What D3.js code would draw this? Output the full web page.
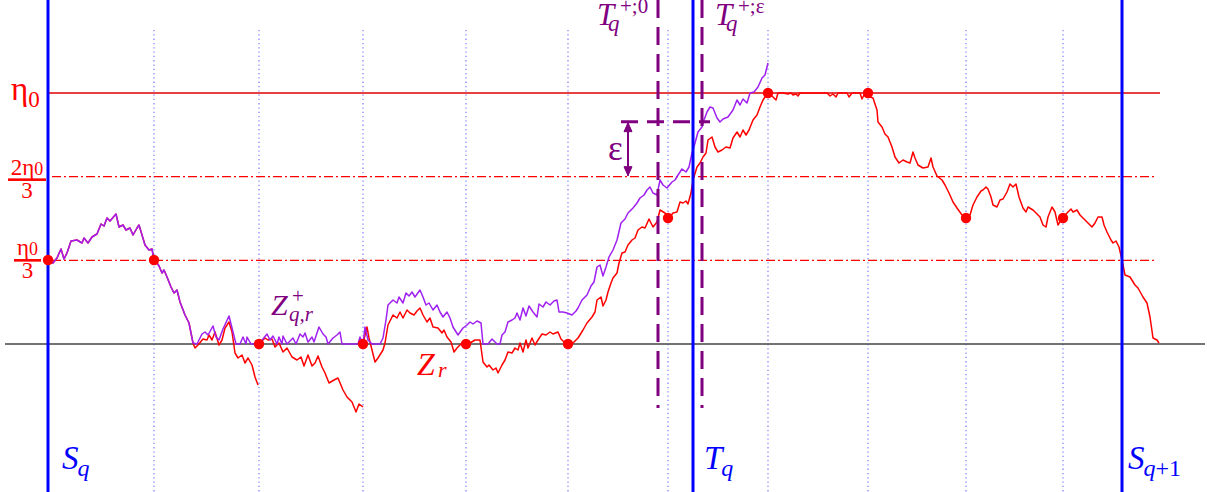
<!DOCTYPE html>
<html><head><meta charset="utf-8">
<script src="https://cdn.jsdelivr.net/npm/d3@7"></script>
<style>body{margin:0;background:#fff}svg{display:block}text{font-family:"Liberation Serif","DejaVu Serif",serif}</style>
</head><body><svg id="c" width="1207" height="492"></svg>
<script>
// ---- data (time units t, level units z; eta0 = 251) ----
const eta0 = 251;
const levelLabels = ["η0/3", "2η0/3", "η0"];
const gridTimes = [106, 211, 315, 418, 520, 620, 720, 820, 918, 1015];
const markerTimes = [0, 645, 1074];            // S_q, T_q, S_{q+1}
const markerNames = [["S","q",""], ["T","q",""], ["S","q","+1"]];
const hitTimes = [610, 654];                    // T_q^{+;0}, T_q^{+;ε}
const hitSup = ["+;0", "+;ε"];
const epsilon = 55;
const epsTimes = [573, 662];
const epsArrowTime = 580;
const dotsT = [0, 106, 211, 315, 418, 520, 620, 720, 820, 918, 1015];
const dotsZ = [84, 84, 0, 0, 0, 0, 126, 251, 251, 126, 126];

// common part of Z_r and Z^+_{q,r}
const commonPath = [[0,83],[5,81],[9,86],[13,95],[16,85],[19,91],[23,103],[29,104],[34,101],[36,106],[40,101],[44,107],[49,110],[53,120],[56,118],[59,126],[62,123],[68,130],[71,117],[75,119],[78,114],[82,116],[85,109],[89,116],[91,119],[94,109],[97,99],[101,94],[104,95],[106,84],[109,81],[111,78],[114,71],[116,74],[119,67],[123,57],[126,51],[129,54],[132,42],[137,29],[141,21],[145,1]];

const purpleTail = [[149,0],[154,10],[157,12],[160,9],[165,18],[168,7],[171,4],[175,15],[181,28],[185,12],[188,0],[192,0],[195,7],[198,0],[199,7],[203,0],[211,0],[219,10],[222,4],[225,8],[229,0],[231,7],[234,0],[235,8],[239,0],[245,6],[248,0],[252,10],[255,7],[257,11],[260,2],[264,7],[266,2],[271,17],[275,10],[278,7],[280,0],[285,6],[289,9],[292,12],[294,0],[310,0],[312,7],[315,0],[317,17],[320,4],[324,0],[332,0],[335,6],[338,24],[340,39],[345,44],[349,41],[351,47],[355,41],[358,51],[361,48],[364,52],[367,47],[372,54],[375,47],[378,39],[381,41],[385,34],[389,39],[392,32],[395,27],[399,32],[402,26],[405,17],[410,9],[415,16],[419,19],[422,22],[425,20],[429,23],[433,21],[435,0],[440,0],[444,5],[449,0],[452,0],[454,9],[457,12],[460,22],[464,24],[467,26],[469,31],[472,24],[475,36],[478,28],[481,38],[485,32],[489,27],[491,40],[495,37],[498,42],[502,39],[506,43],[509,44],[511,32],[515,32],[519,31],[524,29],[528,33],[530,36],[534,44],[539,49],[543,58],[546,62],[549,77],[552,79],[555,68],[558,77],[561,87],[565,94],[569,104],[573,121],[577,125],[580,131],[585,136],[589,141],[592,146],[596,149],[599,154],[602,157],[605,151],[609,149],[612,164],[615,159],[619,156],[624,162],[627,164],[630,169],[634,175],[638,172],[641,177],[644,191],[647,201],[650,212],[654,217],[656,224],[659,232],[662,237],[665,236],[669,226],[672,222],[675,225],[680,227],[685,234],[689,244],[692,239],[695,245],[699,241],[702,251],[706,252],[710,257],[714,266],[717,269],[720,281]];

const redTail1 = [[147,-4],[150,-1],[155,5],[159,4],[161,9],[164,4],[167,12],[171,-1],[174,4],[177,16],[181,22],[184,12],[187,-9],[190,-14],[194,-11],[197,-19],[200,-14],[204,-21],[207,-33],[210,-41]];

const redPiece2 = [[211,0],[217,6],[220,4],[224,5],[227,-3],[231,1],[235,-8],[239,-4],[244,-13],[249,-16],[253,-13],[256,-22],[260,-11],[264,-22],[267,-19],[270,-12],[274,-23],[277,-29],[281,-39],[286,-36],[290,-34],[295,-46],[299,-53],[304,-58],[308,-68],[311,-60],[315,-63]];

const redPiece3 = [[315,0],[317,9],[319,17],[321,6],[324,-6],[327,-18],[330,-14],[335,-6],[337,1],[340,19],[345,29],[349,26],[352,32],[355,26],[359,34],[362,31],[366,29],[369,33],[372,36],[375,29],[379,22],[382,26],[385,17],[390,16],[394,11],[396,14],[399,7],[403,2],[406,-8],[409,-4],[412,-1],[414,1],[418,0],[422,1],[427,4],[432,4],[435,-18],[439,-23],[441,-21],[445,-26],[448,-24],[450,-29],[454,-21],[457,-16],[460,-8],[464,-9],[467,-4],[470,-6],[472,1],[475,-8],[478,4],[480,-4],[484,6],[487,-1],[490,4],[494,10],[498,9],[502,12],[505,10],[510,12],[513,5],[517,1],[520,0],[525,1],[530,6],[535,14],[539,21],[544,27],[547,32],[549,44],[553,47],[555,38],[558,44],[560,52],[563,61],[565,66],[569,71],[571,81],[574,91],[577,92],[580,99],[584,104],[587,106],[590,114],[594,117],[597,116],[601,125],[605,117],[609,122],[612,134],[617,131],[621,126],[625,131],[629,132],[632,142],[635,141],[638,143],[640,140],[643,151],[645,164],[649,177],[652,181],[655,187],[658,191],[660,204],[664,207],[667,197],[670,192],[674,194],[678,197],[682,196],[685,206],[689,212],[692,207],[695,214],[698,209],[701,214],[705,224],[709,229],[712,237],[715,244],[719,250],[721,251],[725,247],[728,244],[730,251],[735,251],[740,250],[743,251],[745,249],[748,250],[750,248],[752,251],[779,251],[782,248],[785,250],[788,247],[790,251],[799,251],[801,247],[804,251],[812,251],[814,245],[816,249],[820,251],[822,247],[825,246],[829,234],[830,222],[834,217],[837,210],[840,207],[844,197],[847,187],[851,181],[855,184],[859,182],[862,181],[865,192],[867,186],[870,179],[875,176],[880,177],[883,186],[885,177],[889,168],[894,164],[897,159],[901,151],[905,142],[909,136],[914,129],[918,126],[922,129],[925,139],[929,147],[933,153],[935,154],[938,157],[940,155],[943,147],[945,139],[949,137],[952,144],[955,145],[959,152],[962,160],[965,157],[968,160],[971,147],[975,136],[978,132],[980,137],[985,134],[989,130],[992,127],[995,119],[998,117],[1000,127],[1004,137],[1007,132],[1010,119],[1013,124],[1015,126],[1019,131],[1023,135],[1025,132],[1029,134],[1032,129],[1035,126],[1039,122],[1044,117],[1047,121],[1050,127],[1054,127],[1056,119],[1059,112],[1063,104],[1065,101],[1068,103],[1071,97],[1074,84],[1077,69],[1082,67],[1087,59],[1090,56],[1095,47],[1099,41],[1102,27],[1105,6],[1109,4],[1111,1]];

// ---- drawing ----
const W = 1207, H = 492;
const svg = d3.select("#c");
const x = d3.scaleLinear().domain([0, 1112]).range([48, 1160]);
const y = d3.scaleLinear().domain([0, eta0]).range([344, 93]);
const line = d3.line().x(d => x(d[0])).y(d => y(d[1]));
const RED = "#ff0000", BLUE = "#0000ff", VIOLET = "#a020f0", DPURP = "#800080";

// dotted grid
svg.selectAll(".grid").data(gridTimes).enter().append("line")
  .attr("x1", d => x(d)).attr("x2", d => x(d)).attr("y1", 30).attr("y2", H)
  .attr("stroke", "#7a7aff").attr("stroke-width", 1.2).attr("stroke-dasharray", "1.3,3");

// zero axis
svg.append("line").attr("x1", x(-43)).attr("x2", x(1157)).attr("y1", y(0)).attr("y2", y(0))
  .attr("stroke", "#444").attr("stroke-width", 1.6);

// level lines
svg.append("line").attr("x1", x(0)).attr("x2", x(1112)).attr("y1", y(eta0)).attr("y2", y(eta0))
  .attr("stroke", "#e00000").attr("stroke-width", 1.3);
[eta0 / 3, 2 * eta0 / 3].forEach(v => {
  svg.append("line").attr("x1", x(4)).attr("x2", x(1109)).attr("y1", y(v)).attr("y2", y(v))
    .attr("stroke", RED).attr("stroke-width", 1.2).attr("stroke-dasharray", "9,3,2,3");
});

// curves
const redPieces = [commonPath.concat(redTail1), redPiece2, redPiece3];
redPieces.forEach(p => svg.append("path").attr("d", line(p)).attr("fill", "none")
  .attr("stroke", RED).attr("stroke-width", 1.5).attr("stroke-linejoin", "round"));
svg.append("path").attr("d", line(commonPath.concat(purpleTail))).attr("fill", "none")
  .attr("stroke", VIOLET).attr("stroke-width", 1.5).attr("stroke-linejoin", "round");

// blue markers
svg.selectAll(".mk").data(markerTimes).enter().append("line")
  .attr("x1", d => x(d)).attr("x2", d => x(d)).attr("y1", 0).attr("y2", H)
  .attr("stroke", BLUE).attr("stroke-width", 3);

// purple dashed hitting times
svg.selectAll(".hit").data(hitTimes).enter().append("line")
  .attr("x1", d => x(d)).attr("x2", d => x(d)).attr("y1", 0).attr("y2", 408)
  .attr("stroke", DPURP).attr("stroke-width", 3).attr("stroke-dasharray", "18,9");

// epsilon construction
const epsLevel = 2 * eta0 / 3 + epsilon;
svg.append("line").attr("x1", x(epsTimes[0])).attr("x2", x(epsTimes[1]))
  .attr("y1", y(epsLevel)).attr("y2", y(epsLevel))
  .attr("stroke", DPURP).attr("stroke-width", 3).attr("stroke-dasharray", "17,9");
const ax = x(epsArrowTime), ay1 = y(epsLevel) + 1, ay2 = y(2 * eta0 / 3) - 1;
svg.append("line").attr("x1", ax).attr("x2", ax).attr("y1", ay1).attr("y2", ay2)
  .attr("stroke", DPURP).attr("stroke-width", 2);
svg.append("path").attr("d", `M${ax-4},${ay1+9}L${ax},${ay1}L${ax+4},${ay1+9}Z M${ax-4},${ay2-9}L${ax},${ay2}L${ax+4},${ay2-9}Z`)
  .attr("fill", DPURP).attr("stroke", DPURP).attr("stroke-width", 1);
svg.append("text").attr("x", ax - 20).attr("y", (ay1 + ay2) / 2 + 11).attr("font-size", 35)
  .attr("fill", DPURP).text("ε");

// red dots
svg.selectAll(".dot").data(dotsT).enter().append("circle")
  .attr("cx", d => x(d)).attr("cy", (d, i) => y(dotsZ[i])).attr("r", 5.2).attr("fill", RED);

// marker labels
const markerLabelDx = [14, 11, 6];
markerTimes.forEach((t, i) => {
  const tx = svg.append("text").attr("x", x(t) + markerLabelDx[i]).attr("y", 469).attr("font-size", 33)
    .attr("font-style", "italic").attr("fill", BLUE);
  tx.append("tspan").text(markerNames[i][0]);
  tx.append("tspan").attr("dy", 7).attr("dx", -1).attr("font-size", 24).text(markerNames[i][1]);
  if (markerNames[i][2]) tx.append("tspan").attr("font-size", 24).attr("font-style", "normal").text(markerNames[i][2]);
});

// hitting time labels
hitTimes.forEach((t, i) => {
  const bx = x(t) - 61 + (i === 1 ? 74 : 0);
  svg.append("text").attr("x", bx).attr("y", 25).attr("font-size", 31).attr("font-style", "italic")
    .attr("fill", DPURP).text("T");
  svg.append("text").attr("x", bx + 11).attr("y", 31).attr("font-size", 23).attr("font-style", "italic")
    .attr("fill", DPURP).text("q");
  svg.append("text").attr("x", bx + 23).attr("y", 13).attr("font-size", 21)
    .attr("fill", DPURP).text(hitSup[i]);
});

// process labels
svg.append("text").attr("x", 271).attr("y", 315).attr("font-size", 30).attr("font-style", "italic")
  .attr("fill", DPURP).text("Z");
svg.append("text").attr("x", 292).attr("y", 303).attr("font-size", 21).attr("fill", DPURP).text("+");
svg.append("text").attr("x", 289).attr("y", 321).attr("font-size", 21).attr("font-style", "italic")
  .attr("fill", DPURP).text("q,r");
svg.append("text").attr("x", 417).attr("y", 375).attr("font-size", 32).attr("font-style", "italic")
  .attr("fill", RED).text("Z");
svg.append("text").attr("x", 438).attr("y", 377).attr("font-size", 22).attr("font-style", "italic")
  .attr("fill", RED).text("r");

// level labels
const eL = svg.append("text").attr("x", 11).attr("y", 100).attr("font-size", 33).attr("fill", RED);
eL.append("tspan").text("η");
eL.append("tspan").attr("dy", 7).attr("font-size", 23).text("0");

function frac(num2, cy, x0, x1) {
  const cx = (x0 + x1) / 2;
  const t = svg.append("text").attr("x", cx).attr("y", cy - 5).attr("font-size", 23)
    .attr("text-anchor", "middle").attr("fill", RED);
  if (num2) t.append("tspan").text("2");
  t.append("tspan").text("η");
  t.append("tspan").attr("font-size", 18).text("0");
  svg.append("rect").attr("x", x0).attr("y", cy - 1.3).attr("width", x1 - x0).attr("height", 2.6).attr("fill", RED);
  svg.append("text").attr("x", cx).attr("y", cy + 18).attr("font-size", 23)
    .attr("text-anchor", "middle").attr("fill", RED).text("3");
}
frac(true, y(2 * eta0 / 3) + 3, 8, 46);
frac(false, y(eta0 / 3), 14, 41);
</script></body></html>
